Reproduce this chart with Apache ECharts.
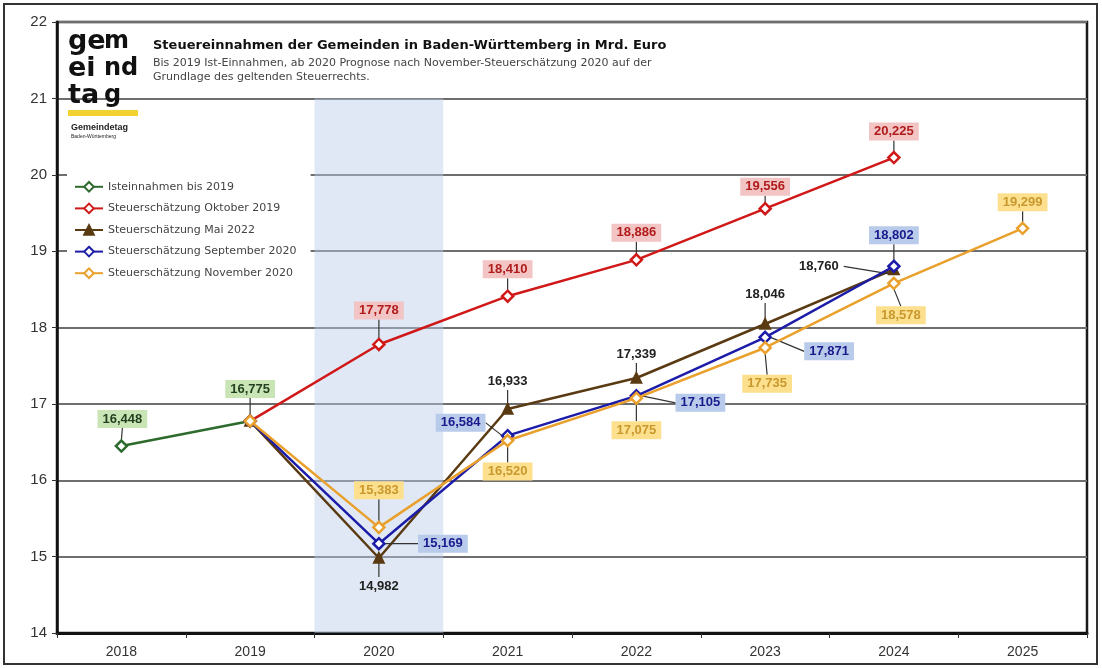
<!DOCTYPE html>
<html>
<head>
<meta charset="utf-8">
<script src="https://cdn.jsdelivr.net/npm/echarts@6/dist/echarts.min.js"></script>
<style>html,body{margin:0;padding:0;background:#fff}#c{width:1102px;height:668px}</style>
</head>
<body>
<div id="c"></div>
<script>
const years = ['2018','2019','2020','2021','2022','2023','2024','2025'];
const seriesNames = ['Isteinnahmen bis 2019','Steuerschätzung Oktober 2019','Steuerschätzung Mai 2022','Steuerschätzung September 2020','Steuerschätzung November 2020'];
const istValues = [16.448, 16.775, null, null, null, null, null, null];
const okt2019Values = [null, 16.775, 17.778, 18.410, 18.886, 19.556, 20.225, null];
const mai2022Values = [null, 16.775, 14.982, 16.933, 17.339, 18.046, 18.760, null];
const sep2020Values = [null, 16.775, 15.169, 16.584, 17.105, 17.871, 18.802, null];
const nov2020Values = [null, 16.775, 15.383, 16.520, 17.075, 17.735, 18.578, 19.299];
const bandValues = [null, null, 21, null, null, null, null, null];

// styling (not data)
const colors = ['#2d6a2d', '#d01818', '#5a3a12', '#1c1ca8', '#e9a02c'];
const labelBg = ['#c9e5b5', '#f3c4c4', 'transparent', '#b9cbea', '#fde08e'];
const labelFg = ['#1f3f1f', '#b01c1c', '#222222', '#1a1a8c', '#c9982e'];
const symbols = ['diamond', 'diamond', 'triangle', 'diamond', 'diamond'];
const hideLabelIdx = [[], [1], [1], [1], [1]];
const offsets = [
  {0:[1,-27], 1:[0,-32]},
  {2:[0,-34], 3:[0,-27], 4:[0,-27], 5:[0,-22], 6:[0,-26]},
  {2:[0,28], 3:[0,-28], 4:[0,-24], 5:[0,-30], 6:[-75,-3]},
  {2:[64,0], 3:[-47,-13], 4:[64,7], 5:[64,14], 6:[0,-31]},
  {2:[0,-37], 3:[0,31], 4:[0,32], 5:[2,36], 6:[7,32], 7:[0,-26]}
];
const allValues = [istValues, okt2019Values, mai2022Values, sep2020Values, nov2020Values];

const fmt = v => v.toFixed(3).replace('.', ',');
const FONT = '"Liberation Sans", Arial, sans-serif';

const lineSeries = allValues.map((vals, si) => ({
  name: seriesNames[si],
  type: 'line',
  z: 3 + si,
  data: vals.map((v, i) => (v != null && hideLabelIdx[si].includes(i)) ? {value: v, label: {show: false}} : v),
  connectNulls: false,
  symbol: symbols[si],
  symbolSize: si === 2 ? 9 : 11,
  showAllSymbol: true,
  lineStyle: {color: colors[si], width: 2.5},
  itemStyle: {color: si === 2 ? colors[si] : '#fff', borderColor: colors[si], borderWidth: 2.5},
  label: {
    show: true,
    position: 'inside',
    formatter: p => fmt(p.value),
    fontFamily: FONT,
    fontWeight: 'bold',
    fontSize: 13,
    color: labelFg[si],
    backgroundColor: labelBg[si],
    padding: [3, 5, 2, 5]
  },
  labelLine: {show: true, lineStyle: {color: '#333', width: 1.2}},
  labelLayout: p => {
    const o = offsets[si][p.dataIndex] || [0, -25];
    return {dx: o[0], dy: o[1]};
  },
  emphasis: {disabled: true}
}));

const chart = echarts.init(document.getElementById('c'));
chart.setOption({
  animation: false,
  textStyle: {fontFamily: FONT},
  grid: {left: 57, right: 15, top: 22, bottom: 35, show: true, borderColor: '#1a1a1a', borderWidth: 2.5, backgroundColor: 'transparent'},
  legend: {
    orient: 'vertical',
    left: 67, top: 171,
    data: seriesNames,
    itemWidth: 28, itemHeight: 12, itemGap: 10,
    backgroundColor: '#fff',
    padding: [10, 14, 10, 7],
    textStyle: {fontSize: 11, color: '#444', fontFamily: '"DejaVu Sans", sans-serif'}
  },
  xAxis: {
    type: 'category',
    data: years,
    boundaryGap: true,
    axisLine: {lineStyle: {color: '#111', width: 3}},
    axisTick: {show: true, length: 5, lineStyle: {color: '#333'}},
    axisLabel: {fontSize: 14, color: '#333', margin: 12},
    splitLine: {show: false}
  },
  yAxis: {
    type: 'value', min: 14, max: 22, interval: 1,
    axisLine: {show: true, lineStyle: {color: '#111', width: 2.5}},
    axisTick: {show: true, length: 5, lineStyle: {color: '#333'}},
    axisLabel: {fontSize: 15, color: '#333', margin: 10},
    splitLine: {lineStyle: {color: '#6e6e6e', width: 2}}
  },
  graphic: [
    {type: 'rect', z: 1, shape: {x: 4, y: 4, width: 1093, height: 660}, style: {fill: 'none', stroke: '#333', lineWidth: 2}, silent: true},
    {type: 'rect', z: 1, shape: {x: 59, y: 24, width: 1026, height: 73}, style: {fill: '#fff'}, silent: true},
    {type: 'text', z: 2, left: 68, top: 28, style: {text: 'ge\nei\nta', font: 'bold 27px "DejaVu Sans"', fill: '#111', lineHeight: 27}},
    {type: 'text', z: 2, left: 104, top: 28, style: {text: 'm\nnd\ng', font: 'bold 24px "DejaVu Sans"', fill: '#111', lineHeight: 27}},
    {type: 'rect', z: 2, shape: {x: 68, y: 110, width: 70, height: 6}, style: {fill: '#f2d230'}},
    {type: 'text', z: 2, left: 71, top: 123, style: {text: 'Gemeindetag', font: 'bold 9px "Liberation Sans"', fill: '#222'}},
    {type: 'text', z: 2, left: 71, top: 134, style: {text: 'Baden-Württemberg', font: '5px "Liberation Sans"', fill: '#222'}},
    {type: 'text', z: 2, left: 153, top: 39, style: {text: 'Steuereinnahmen der Gemeinden in Baden-Württemberg in Mrd. Euro', font: 'bold 13px "DejaVu Sans"', fill: '#111'}},
    {type: 'text', z: 2, left: 153, top: 56, style: {text: 'Bis 2019 Ist-Einnahmen, ab 2020 Prognose nach November-Steuerschätzung 2020 auf der\nGrundlage des geltenden Steuerrechts.', font: '11px "DejaVu Sans"', fill: '#444', lineHeight: 14}}
  ],
  series: [
    {
      type: 'bar', name: 'band', data: bandValues, barWidth: '100%', z: 1, silent: true,
      itemStyle: {color: 'rgba(184,204,230,0.45)'}, emphasis: {disabled: true}
    },
    ...lineSeries
  ]
});
</script>
</body>
</html>
